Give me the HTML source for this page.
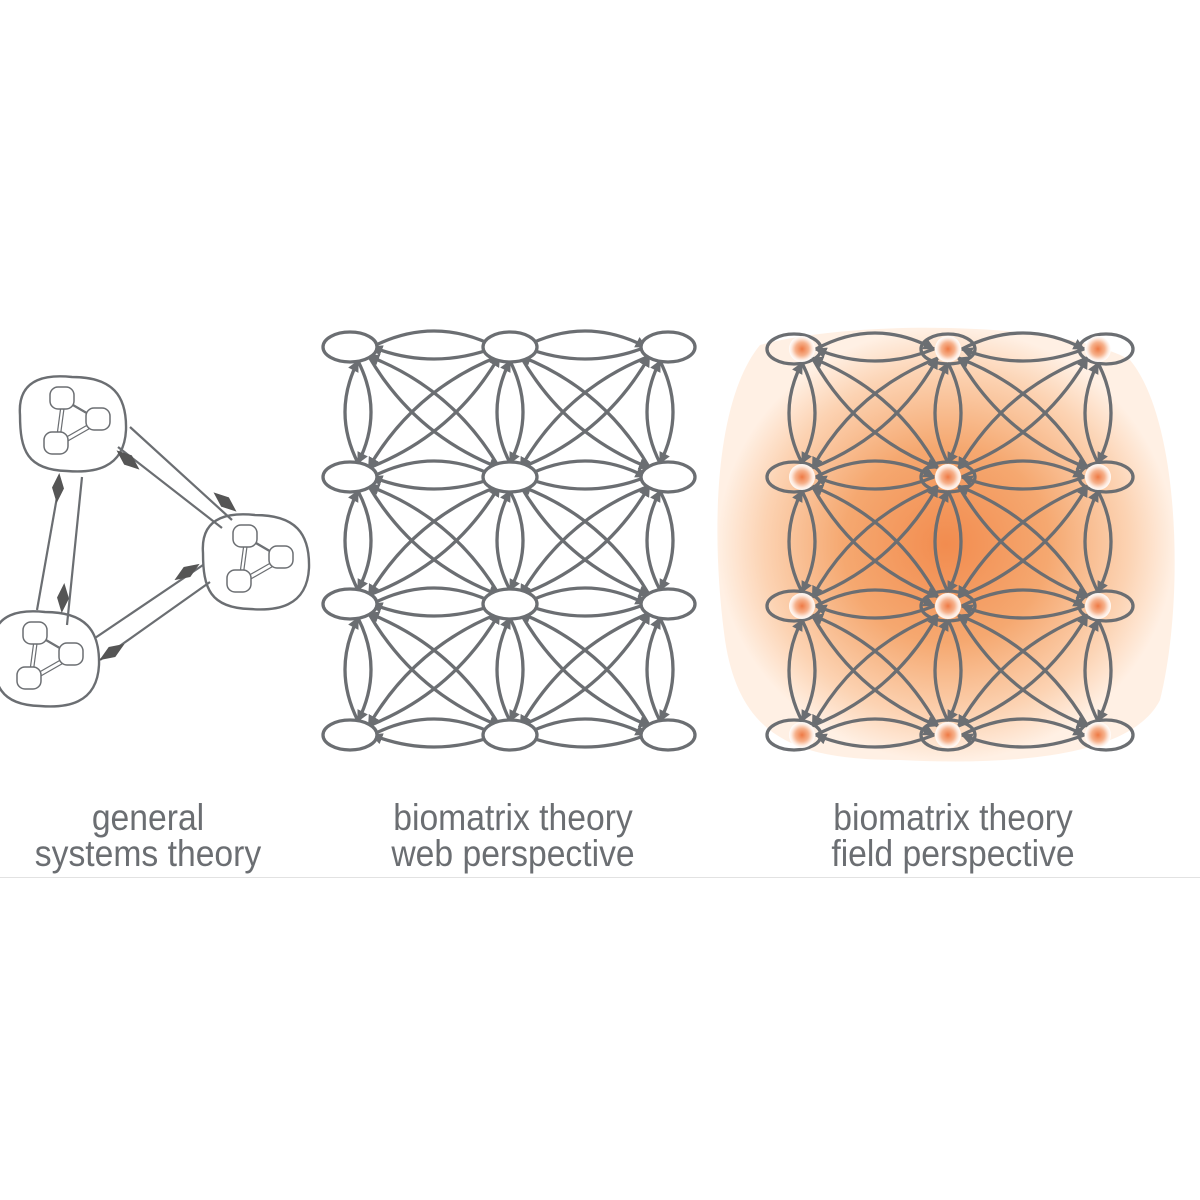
<!DOCTYPE html>
<html><head><meta charset="utf-8">
<style>
html,body{margin:0;padding:0;background:#fff;}
body{width:1200px;height:1200px;position:relative;overflow:hidden;font-family:"Liberation Sans",sans-serif;}
.lbl{position:absolute;color:#6b6e72;font-size:37px;line-height:36px;text-align:center;width:400px;transform:scaleX(0.91);transform-origin:center;}
.rule{position:absolute;left:0;top:877px;width:1200px;height:1px;background:#e2e2e2;}
</style></head><body>
<svg id="s" width="1200" height="1200" style="position:absolute;left:0;top:0">
<defs>
<marker id="ah" viewBox="0 0 10 10" refX="9" refY="5" markerWidth="3.5" markerHeight="3.5" orient="auto"><path d="M0,0 L10,5 L0,10 z" fill="#6b6e72"/></marker>
<radialGradient id="blob" cx="0.5" cy="0.5" r="0.5">
<stop offset="0" stop-color="#f28c4f"/><stop offset="0.45" stop-color="#f5a870"/><stop offset="0.8" stop-color="#fcd3b3"/><stop offset="1" stop-color="#fff0e4"/></radialGradient>
<radialGradient id="dot" cx="0.5" cy="0.5" r="0.5">
<stop offset="0" stop-color="#ee7a45"/><stop offset="0.5" stop-color="#f6b08a"/><stop offset="0.8" stop-color="#fde8dc"/><stop offset="1" stop-color="#fff" stop-opacity="0.9"/></radialGradient>
</defs>
<path d="M760,345 C850,320 1060,320 1130,360 C1180,420 1185,600 1160,700 C1130,760 1000,765 900,760 C800,760 740,740 725,640 C710,530 715,400 760,345 Z" fill="url(#blob)"/>
<g id="tri" fill="none" stroke="#6b6e72" stroke-width="2.2"></g>
<g id="web" fill="none" stroke="#6b6e72" stroke-width="3.3"></g>
</svg>
<div class="lbl" style="left:-52px;top:800px">general<br>systems theory</div>
<div class="lbl" style="left:313px;top:800px">biomatrix theory<br>web perspective</div>
<div class="lbl" style="left:753px;top:800px">biomatrix theory<br>field perspective</div>
<div class="rule"></div>
<script>
var NS="http://www.w3.org/2000/svg";
function el(p,t,a){var e=document.createElementNS(NS,t);for(var k in a)e.setAttribute(k,a[k]);p.appendChild(e);return e;}
var web=document.getElementById('web');
function curve(a,b,off,arrow){var mx=(a[0]+b[0])/2,my=(a[1]+b[1])/2,dx=b[0]-a[0],dy=b[1]-a[1],L=Math.hypot(dx,dy);var nx=-dy/L,ny=dx/L;
 var sh=14;var ax=a[0]+dx/L*sh,ay=a[1]+dy/L*sh,bx=b[0]-dx/L*sh,by=b[1]-dy/L*sh;
 var p=el(web,'path',{d:'M'+ax+','+ay+' Q'+(mx+nx*off)+','+(my+ny*off)+' '+bx+','+by});if(arrow)p.setAttribute('marker-end','url(#ah)');}
function grid(xs,ys,field){
 for(var r=0;r<4;r++)for(var c=0;c<3;c++){var n=[xs[c],ys[r]];
  if(c<2){var m=[xs[c+1],ys[r]];curve(n,m,-32,1);curve(m,n,-24,1);}
  if(r<3){var m=[xs[c],ys[r+1]];curve(n,m,-26,1);curve(m,n,-26,1);}
  if(c<2&&r<3){var d=[xs[c+1],ys[r+1]];curve(n,d,30,1);curve(d,n,30,1);
   var e1=[xs[c+1],ys[r]],e2=[xs[c],ys[r+1]];curve(e1,e2,30,1);curve(e2,e1,30,1);}
 }
 for(var r=0;r<4;r++)for(var c=0;c<3;c++){var x=xs[c],y=ys[r];
  var ox=c==0?-8:(c==2?8:0);
  el(web,'ellipse',{cx:x+ox,cy:y,rx:27,ry:15,fill:field?'none':'#fff'});
  if(field){el(web,'circle',{cx:x,cy:y,r:13,fill:'url(#dot)',stroke:'none'});}
 }
}
grid([358,510,660],[347,477,604,735],false);
grid([802,948,1098],[349,477,606,735],true);
var tri=document.getElementById('tri');
function blob(cx,cy){el(tri,'path',{d:'M'+(cx-52)+','+(cy-10)+' C'+(cx-55)+','+(cy-50)+' '+(cx-20)+','+(cy-50)+' '+cx+','+(cy-48)+' C'+(cx+40)+','+(cy-48)+' '+(cx+55)+','+(cy-30)+' '+(cx+54)+','+(cy+5)+' C'+(cx+52)+','+(cy+45)+' '+(cx+20)+','+(cy+48)+' '+(cx-5)+','+(cy+46)+' C'+(cx-45)+','+(cy+45)+' '+(cx-52)+','+(cy+25)+' '+(cx-52)+','+(cy-10)+'Z','stroke-width':2.4});
 var pts=[[cx-10,cy-27],[cx+26,cy-6],[cx-16,cy+18]];
 for(var i=0;i<3;i++){var a=pts[i],b=pts[(i+1)%3];el(tri,'line',{x1:a[0],y1:a[1],x2:b[0],y2:b[1],'stroke-width':1.2});el(tri,'line',{x1:a[0]+3,y1:a[1]+3,x2:b[0]+3,y2:b[1]+3,'stroke-width':1.2});}
 pts.forEach(function(p){el(tri,'rect',{x:p[0]-12,y:p[1]-11,width:24,height:22,rx:8,fill:'#fff','stroke-width':1.5});});}
blob(72,425);blob(255,563);blob(45,660);
function ln(a,b,c,d){el(tri,'line',{x1:a,y1:b,x2:c,y2:d});}
ln(130,427,232,520);ln(118,447,222,528);
ln(82,477,67,625);ln(60,480,37,610);
ln(203,565,95,638);ln(210,582,100,660);
function dia(x,y,ang){el(tri,'path',{d:'M-15,0 L0,-6 L15,0 L0,6 Z',fill:'#555',stroke:'none',transform:'translate('+x+','+y+') rotate('+ang+')'});}
dia(128,460,40);dia(225,502,40);dia(58,488,-85);dia(63,598,-85);dia(187,572,-33);dia(112,652,-33);
</script>
</body></html>
